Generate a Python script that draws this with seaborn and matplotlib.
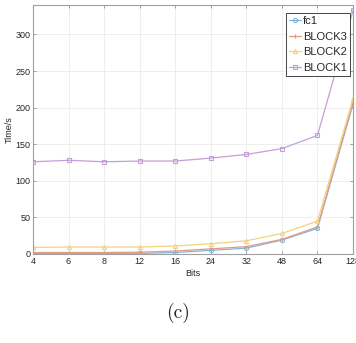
import pandas as pd
import numpy as np
import matplotlib
matplotlib.use("Agg")
import matplotlib.pyplot as plt
import seaborn as sns

# ============================================================
# DATA
# ============================================================

bits = ["4", "6", "8", "12", "16", "24", "32", "48", "64", "128"]

fc1 = [0.5, 0.5, 0.5, 0.8, 2, 5, 8, 19, 35, 205]
block3 = [2, 2, 2, 2.5, 4, 7, 10, 20, 37, 207]
block2 = [9, 9.5, 9.5, 9.5, 11, 14, 18, 28, 45, 212]
block1 = [126, 128, 126, 127, 127, 131, 136, 144, 162, 333]

series_names = ["fc1", "BLOCK3", "BLOCK2", "BLOCK1"]
series_values = [fc1, block3, block2, block1]
colors = ["#7fb6e0", "#e49a80", "#f3d27e", "#c49fd6"]
markers = ["o", "+", "^", "s"]

# ============================================================
# STYLE
# ============================================================

sns.set_style("white")
plt.rcParams["font.family"] = ["Liberation Sans", "DejaVu Sans"]

fig = plt.figure(figsize=(3.56, 3.43), dpi=100)
ax = fig.add_axes([0.0927, 0.2595, 0.899, 0.7255])

pos = np.arange(len(bits))

for name, vals, col, mk in zip(series_names, series_values, colors, markers):
    df = pd.DataFrame({"pos": pos, "time": vals})
    sns.lineplot(
        data=df,
        x="pos",
        y="time",
        ax=ax,
        color=col,
        marker=mk,
        markersize=3,
        markerfacecolor="none",
        markeredgecolor=col,
        markeredgewidth=0.8,
        linewidth=0.9,
        label=name,
    )

# ============================================================
# AXES
# ============================================================

ax.set_xlim(0, len(bits) - 1)
ax.set_ylim(0, 340)
ax.set_xticks(pos)
ax.set_xticklabels(bits)
ax.set_yticks([0, 50, 100, 150, 200, 250, 300])

ax.grid(True, color="#ebebeb", linewidth=0.6)
ax.set_axisbelow(True)

for side in ["left", "top", "right", "bottom"]:
    ax.spines[side].set_visible(True)
    ax.spines[side].set_color("#a0a0a0")
    ax.spines[side].set_linewidth(0.8)

ax.tick_params(
    axis="both",
    direction="in",
    length=2.5,
    width=0.5,
    color="#808080",
    labelsize=6.5,
    labelcolor="#262626",
    pad=2,
    top=True,
    right=True,
    bottom=True,
    left=True,
)

ax.set_xlabel("Bits", fontsize=6.5, color="#262626", labelpad=2)
ax.set_ylabel("Time/s", fontsize=6.5, color="#262626", labelpad=1)

# ============================================================
# LEGEND
# ============================================================

leg = ax.legend(
    loc="upper right",
    bbox_to_anchor=(0.998, 0.978),
    fontsize=8,
    frameon=True,
    fancybox=False,
    framealpha=1,
    edgecolor="#262626",
    handlelength=1.1,
    handletextpad=0.15,
    borderpad=0.3,
    labelspacing=0.5,
    borderaxespad=0.2,
)
leg.get_frame().set_linewidth(0.6)

# ============================================================
# CAPTION
# ============================================================

fig.text(0.5, 0.087, "(c)", ha="center", va="center",
         fontsize=14, family=["cmr10", "DejaVu Serif"])

plt.savefig("out.png", dpi=100)
